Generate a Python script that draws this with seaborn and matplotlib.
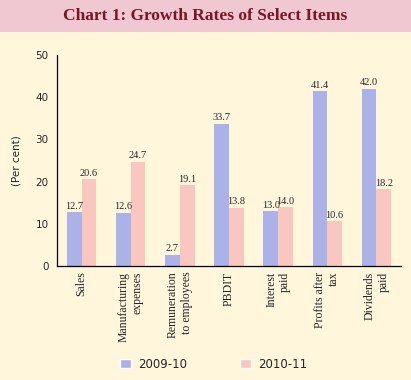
import matplotlib
matplotlib.use("Agg")
import matplotlib.pyplot as plt
import seaborn as sns
import pandas as pd
import numpy as np
from matplotlib.patches import Rectangle, Patch

categories = ["Sales", "Manufacturing\nexpenses", "Remuneration\nto employees",
              "PBDIT", "Interest\npaid", "Profits after\ntax", "Dividends\npaid"]
series_names = ["2009-10", "2010-11"]
values_2009 = [12.7, 12.6, 2.7, 33.7, 13.0, 41.4, 42.0]
values_2010 = [20.6, 24.7, 19.1, 13.8, 14.0, 10.6, 18.2]
yticks = [0, 10, 20, 30, 40, 50]

colors = ["#aab2e8", "#fac6c0"]
bg = "#fff6dc"
band = "#f0c8d2"

df = pd.DataFrame({
    "cat": categories * 2,
    "series": [series_names[0]] * 7 + [series_names[1]] * 7,
    "val": values_2009 + values_2010,
})

sns.set_style("white")
plt.rcParams["font.family"] = ["Liberation Serif", "DejaVu Serif"]

fig = plt.figure(figsize=(4.11, 3.80), dpi=100)
fig.patch.set_facecolor(bg)
fig.patches.append(Rectangle((0, 1 - 32 / 380), 1, 32 / 380, transform=fig.transFigure,
                             facecolor=band, edgecolor="none", zorder=0))
fig.text(0.5, 1 - 16 / 380, "Chart 1: Growth Rates of Select Items", ha="center", va="center",
         fontsize=12.5, fontweight="bold", color="#7a1526")

ax = fig.add_axes([57 / 411, 1 - 266 / 380, (401 - 57) / 411, (266 - 55) / 380])
ax.set_facecolor("none")

sns.barplot(data=df, x="cat", y="val", hue="series", palette=colors, width=0.6,
            saturation=1, ax=ax, legend=False, linewidth=0, edgecolor="none")

for cont in ax.containers:
    ax.bar_label(cont, fmt="%.1f", fontsize=7.5, padding=1)

ax.set_ylim(0, 50)
ax.set_yticks(yticks)
ax.set_yticklabels([str(t) for t in yticks], fontsize=7.5, family=["DejaVu Sans"])
ax.set_xlim(-0.5, 6.5)
ax.set_xticks(range(7))
ax.set_xticklabels(categories, rotation=90, fontsize=8.5, multialignment="right")
ax.set_xticks(np.arange(-0.5, 7, 1), minor=True)
ax.tick_params(axis="x", which="major", length=0, pad=4)
ax.tick_params(axis="x", which="minor", length=4, width=0.8, color="black", direction="out")
ax.tick_params(axis="y", length=4, width=0.8, color="black", direction="out", pad=2)
ax.set_xlabel("")
ax.set_ylabel("(Per cent)", fontsize=7.5, family=["DejaVu Sans"], labelpad=10)
for s in ["top", "right"]:
    ax.spines[s].set_visible(False)
for s in ["left", "bottom"]:
    ax.spines[s].set_color("black")
    ax.spines[s].set_linewidth(0.9)

handles = [Patch(facecolor=colors[0]), Patch(facecolor=colors[1])]
fig.legend(handles, series_names, loc="center", bbox_to_anchor=(0.52, 1 - 364 / 380),
           ncol=2, frameon=False, handlelength=0.9, handleheight=0.9,
           columnspacing=4.5, handletextpad=0.6,
           prop={"family": ["DejaVu Sans"], "size": 8.5})

fig.savefig("out.png", dpi=100, facecolor=bg)
